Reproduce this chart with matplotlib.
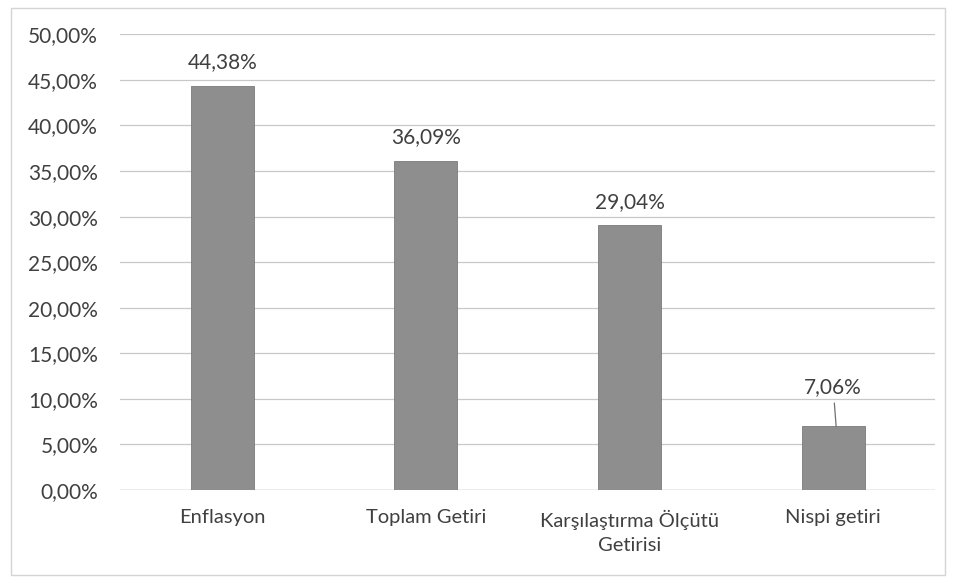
import matplotlib.pyplot as plt
from matplotlib.ticker import FuncFormatter

categories = ["Enflasyon", "Toplam Getiri", "Karşılaştırma Ölçütü\nGetirisi", "Nispi getiri"]
values = [44.38, 36.09, 29.04, 7.06]
yticks = [0, 5, 10, 15, 20, 25, 30, 35, 40, 45, 50]

plt.rcParams['font.family'] = ['Lato', 'DejaVu Sans']

fig = plt.figure(figsize=(9.55, 5.82), dpi=100)
ax = fig.add_axes([0.126, 0.158, 0.853, 0.783])

x = range(len(categories))
ax.bar(x, values, width=0.31, color="#8e8e8e", edgecolor="#7a7a7a", linewidth=0.6, zorder=2)

ax.set_ylim(0, 50)
ax.set_xlim(-0.5, len(categories) - 0.5)
ax.set_yticks(yticks)
ax.yaxis.set_major_formatter(FuncFormatter(lambda v, p: f"{v:.2f}%".replace(".", ",")))
ax.set_xticks(list(x))
ax.set_xticklabels(categories, fontsize=14.5, color="#404040", linespacing=1.55)
ax.tick_params(axis="y", labelsize=15, labelcolor="#404040", length=0, pad=16)
ax.tick_params(axis="x", length=0, pad=14)
ax.grid(axis="y", color="#c8c8c8", linewidth=0.9, zorder=0)
for s in ax.spines.values():
    s.set_visible(False)
ax.axhline(0, color="#bdbdbd", linewidth=1, zorder=1)

for i, v in enumerate(values):
    label = f"{v:.2f}%".replace(".", ",")
    if i == len(values) - 1:
        ax.annotate(label, xy=(i + 0.015, v - 0.1), xytext=(i, v + 3.1), ha="center", va="bottom",
                    fontsize=15, color="#404040",
                    arrowprops=dict(arrowstyle="-", color="#707070", lw=0.9,
                                    shrinkA=2, shrinkB=0))
    else:
        ax.text(i, v + 1.5, label, ha="center", va="bottom", fontsize=15, color="#404040")

fig.patches.append(plt.Rectangle((0.012, 0.012), 0.978, 0.975, transform=fig.transFigure,
                                 fill=False, edgecolor="#d4d4d4", linewidth=1))

fig.savefig("out.png", dpi=100, facecolor="white")
